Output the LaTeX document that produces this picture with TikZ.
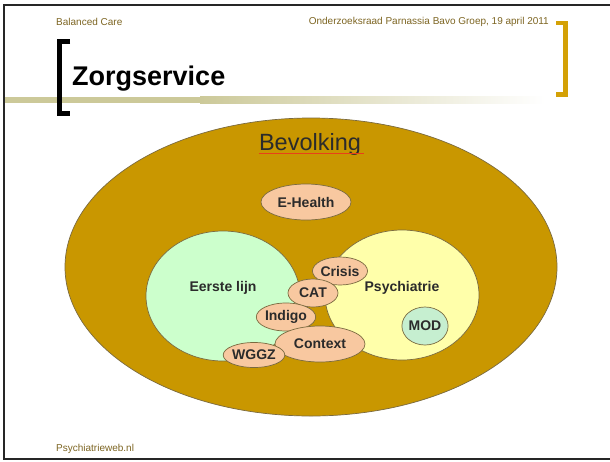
\documentclass[tikz,border=0pt]{standalone}
\usepackage{fontspec}
\setmainfont{Liberation Sans}
\usepackage{xcolor}
\usetikzlibrary{shapes.geometric}

\definecolor{headtext}{HTML}{7D6522}
\definecolor{barolive}{HTML}{CCC999}
\definecolor{goldbar}{HTML}{D4A106}
\definecolor{popgold}{HTML}{C99700}
\definecolor{ringline}{HTML}{7A6A40}
\definecolor{eerstegreen}{HTML}{CCFFCC}
\definecolor{psyyellow}{HTML}{FFFFAA}
\definecolor{peach}{HTML}{F8C8A0}
\definecolor{modgreen}{HTML}{C6EFD0}
\definecolor{labeltext}{HTML}{2B2B2B}
\definecolor{spellred}{HTML}{E8401A}

\tikzset{
  blob/.style={draw=ringline, line width=0.7pt, ellipse, inner sep=0pt},
  tag/.style={blob, fill=peach, text=labeltext,
    font=\fontsize{14}{14}\selectfont\bfseries},
  head/.style={text=headtext, inner sep=0pt, font=\fontsize{10}{10}\selectfont},
  bigword/.style={text=labeltext, inner sep=0pt,
    font=\fontsize{14}{14}\selectfont\bfseries},
}

\begin{document}
\begin{tikzpicture}[x=1pt,y=-1pt]
\useasboundingbox (0,0) rectangle (610,461);
\fill[white] (0,0) rectangle (610,461);

% slide frame and header
\draw[line width=2.4pt, black!85] (612,5) -- (4,5) -- (4,459) -- (612,459);
\node[head, anchor=west] (left) at (56,22) {Balanced Care};
\node[head, anchor=east] (right) at (549,22) {Onderzoeksraad Parnassia Bavo Groep, 19 april 2011};
\node[head, anchor=west] (foot) at (56,449) {Psychiatrieweb.nl};

% title bar
\fill[barolive] (5,97) rectangle (200,103);
\shade[left color=barolive, right color=white] (200,96.5) rectangle (545,103);
\draw[line width=5pt, black, line join=miter] (70,41.5) -- (59.5,41.5) -- (59.5,113.5) -- (70,113.5);
\draw[line width=4.5pt, goldbar, line join=miter] (556,23) -- (565.5,23) -- (565.5,94.5) -- (556,94.5);
\node[anchor=base west, inner sep=0pt, font=\fontsize{27}{27}\selectfont\bfseries] (title) at (72,85) {Zorgservice};

% population
\node[blob, fill=popgold, minimum width=492pt, minimum height=298pt] (bevolking) at (311,267) {};
\node[text=labeltext, inner sep=0pt, font=\fontsize{23.5}{23.5}\selectfont] (bev) at (310,144) {Bevolking};
\draw[spellred, line width=0.9pt] (bev.base west) ++(0,3) -- ++(105,0);

% the two circles
\node[blob, fill=eerstegreen, minimum width=154pt, minimum height=130pt] (eerste) at (223,296) {};
\node[blob, fill=psyyellow, minimum width=154pt, minimum height=130pt] (psy) at (402,295) {};
\node[bigword] (eerstetxt) at (223,288) {Eerste lijn};
\node[bigword] (psytxt) at (402,288) {Psychiatrie};
\node[blob, fill=modgreen, text=labeltext, minimum size=38pt,
  font=\fontsize{14}{14}\selectfont\bfseries] (mod) at (425,326) {MOD};

% services
\node[tag, minimum width=90pt, minimum height=36pt] (ehealth) at (306,202) {E-Health};
\node[tag, minimum width=50pt, minimum height=28pt] (crisis) at (340,271) {Crisis};
\node[tag, minimum width=50pt, minimum height=28pt] (cat) at (313,293) {CAT};
\node[tag, minimum width=50pt, minimum height=28pt] (indigo) at (286,317) {Indigo};
\node[tag, minimum width=90pt, minimum height=36pt] (context) at (320,344) {Context};
\node[tag, minimum width=50pt, minimum height=25pt] (wggz) at (254,355) {WGGZ};
\end{tikzpicture}
\end{document}
